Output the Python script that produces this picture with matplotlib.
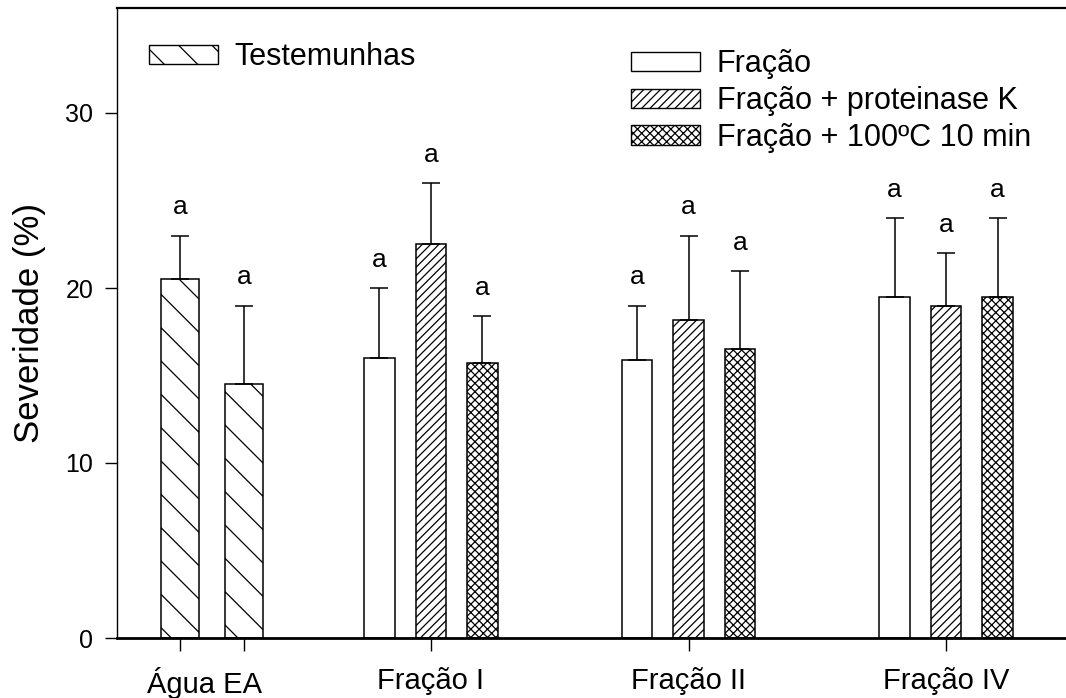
import numpy as np
import matplotlib
matplotlib.use("Agg")
import matplotlib.pyplot as plt
from matplotlib.patches import Patch

plt.rcParams['font.family'] = ['Liberation Sans', 'DejaVu Sans']
plt.rcParams['hatch.linewidth'] = 0.9

# data
control_labels = ['Água EA']
control_vals = [20.5, 14.5]
control_err = [2.5, 4.5]

groups = ['Fração I', 'Fração II', 'Fração IV']
frac_vals = [16.0, 15.9, 19.5]
frac_err = [4.0, 3.1, 4.5]
prot_vals = [22.5, 18.2, 19.0]
prot_err = [3.5, 4.8, 3.0]
heat_vals = [15.7, 16.5, 19.5]
heat_err = [2.7, 4.5, 4.5]

letters_control = ['a', 'a']
letters_frac = ['a', 'a', 'a']
letters_prot = ['a', 'a', 'a']
letters_heat = ['a', 'a', 'a']

series_names = ['Fração', 'Fração + proteinase K', 'Fração + 100ºC 10 min']

# layout
fig = plt.figure(figsize=(10.66, 6.98), dpi=100)
ax = fig.add_axes([117 / 1066, 60 / 698, 1 - 117 / 1066, 630 / 698])

ctrl_center = 0.15
ctrl_x = np.array([ctrl_center - 0.124, ctrl_center + 0.124])
gx = np.arange(1, len(groups) + 1)
off = 0.2
w_ctrl = 0.148
w = 0.12

bar_kw = dict(color='white', edgecolor='black', linewidth=1.1, zorder=2)
err_kw = dict(fmt='none', ecolor='black', elinewidth=1.1, capsize=6.5,
              capthick=1.1, zorder=3)

ax.bar(ctrl_x, control_vals, w_ctrl, hatch='\\', **bar_kw)
ax.errorbar(ctrl_x, control_vals, yerr=[np.zeros(2), control_err], **err_kw)

series = [(gx - off, frac_vals, frac_err, '', letters_frac),
          (gx, prot_vals, prot_err, '////', letters_prot),
          (gx + off, heat_vals, heat_err, 'xxxx', letters_heat)]
for xs, vals, errs, hatch, lets in series:
    ax.bar(xs, vals, w, hatch=hatch, **bar_kw)
    ax.errorbar(xs, vals, yerr=[np.zeros(len(vals)), errs], **err_kw)
    for x, v, e, t in zip(xs, vals, errs, lets):
        ax.text(x, v + e + 1.2, t, ha='center', va='baseline', fontsize=19)

for x, v, e, t in zip(ctrl_x, control_vals, control_err, letters_control):
    ax.text(x, v + e + 1.2, t, ha='center', va='baseline', fontsize=19)

ax.set_xlim(-0.2194, 3.466)
ax.set_ylim(0, 36)
ax.set_yticks([0, 10, 20, 30])
ax.set_xticks(list(ctrl_x) + list(gx))
ax.set_xticklabels(['', ''] + groups)
ax.set_xticks([0.122], minor=True)
ax.set_xticklabels(control_labels, minor=True)
ax.tick_params(axis='x', which='major', direction='out', length=9, width=1,
               labelsize=21, pad=12)
ax.tick_params(axis='x', which='minor', length=0, labelsize=21, pad=21)
ax.tick_params(axis='y', direction='out', length=9, width=1,
               labelsize=18, pad=8)
ax.set_ylabel('Severidade (%)', fontsize=25, labelpad=14)

ax.spines['right'].set_visible(False)
ax.spines['left'].set_linewidth(1.0)
ax.spines['bottom'].set_linewidth(2.0)
ax.spines['top'].set_linewidth(1.6)

h1 = [Patch(facecolor='white', edgecolor='black', hatch='\\', linewidth=1)]
leg1 = ax.legend(h1, ['Testemunhas'], loc='center left',
                 bbox_to_anchor=(149 / 1066, 1 - 57 / 698),
                 bbox_transform=fig.transFigure, frameon=False, fontsize=22,
                 handlelength=2.25, handleheight=0.6, handletextpad=0.55,
                 borderpad=0, borderaxespad=0)
ax.add_artist(leg1)

h2 = [Patch(facecolor='white', edgecolor='black', hatch=h, linewidth=1)
      for h in ['', '////', 'xxxx']]
ax.legend(h2, series_names, loc='center left',
          bbox_to_anchor=(631 / 1066, 1 - 101 / 698),
          bbox_transform=fig.transFigure, frameon=False, fontsize=22,
          handlelength=2.25, handleheight=0.6, handletextpad=0.55,
          labelspacing=0.22, borderpad=0, borderaxespad=0)

fig.savefig('out.png', dpi=100)
